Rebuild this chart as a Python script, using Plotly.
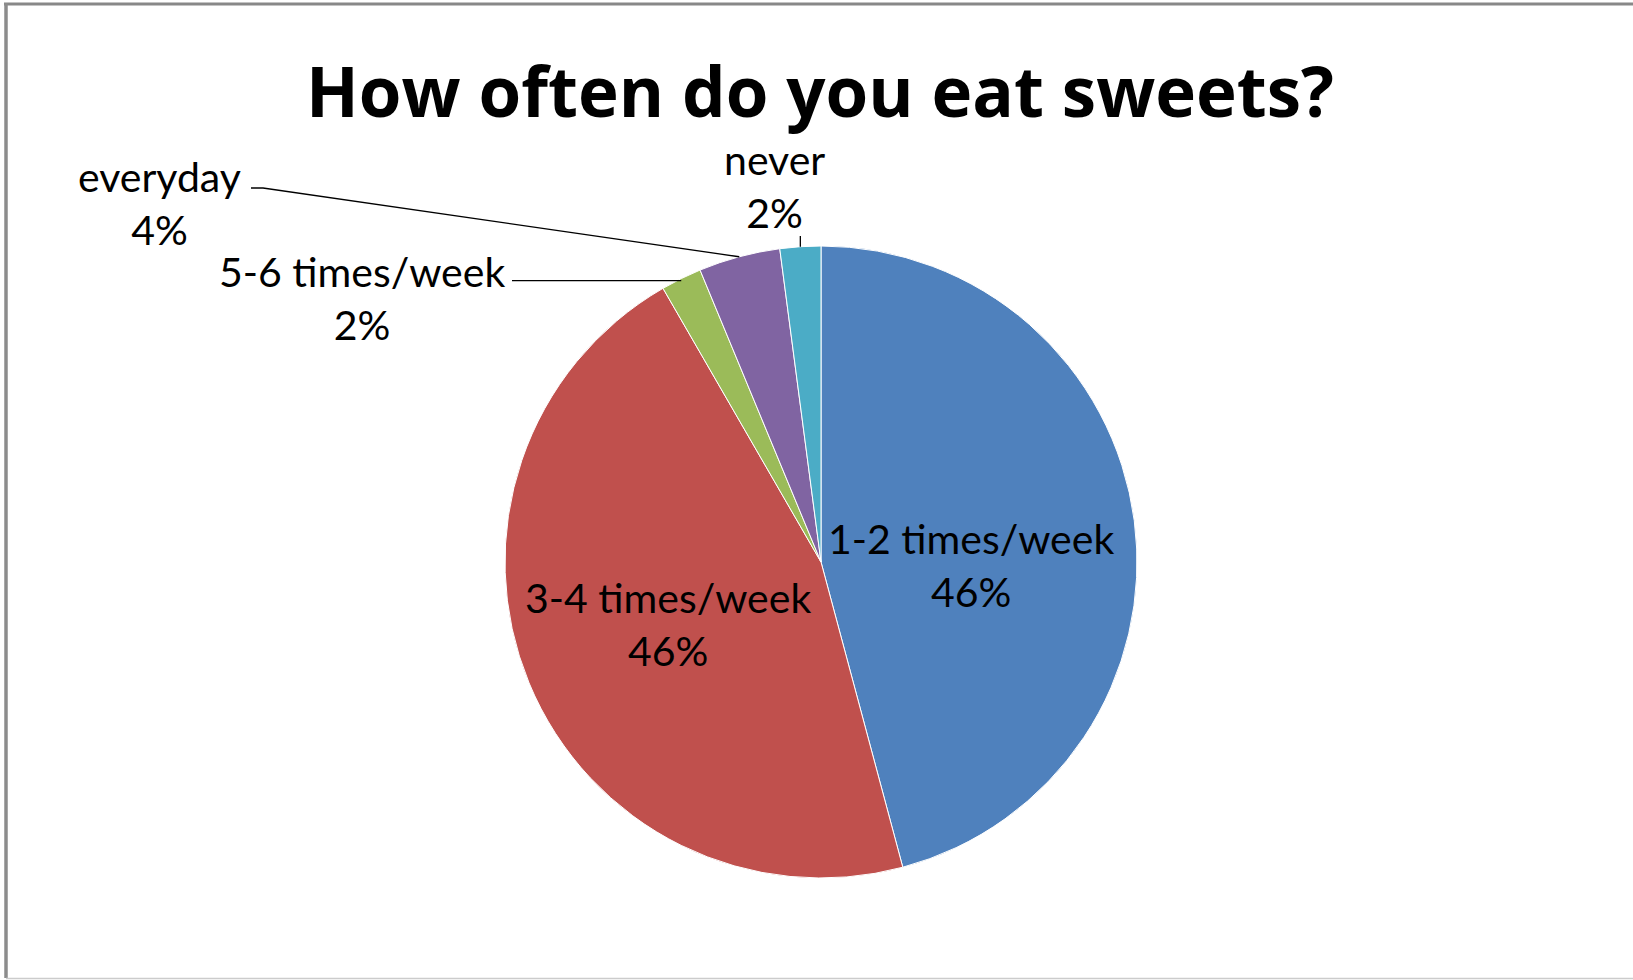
import math
import plotly.graph_objects as go

# Survey answers, in clockwise order starting at 12 o'clock
categories = ["1-2 times/week", "3-4 times/week", "5-6 times/week", "everyday", "never"]
counts = [22, 22, 1, 2, 1]
colors = ["#4F81BD", "#C0504D", "#9BBB59", "#8064A2", "#4BACC6"]

W, H = 1633, 980
CX, CY, R = 821, 562, 316          # pie centre and radius in pixels
FONT = "Lato, 'Open Sans', sans-serif"
TITLE_FONT = "'Open Sans', Lato, sans-serif"
LABEL_SIZE = 41

total = sum(counts)
pcts = [round(c / total * 100) for c in counts]


def px(x):
    return x / W


def py(y):
    return 1 - y / H


def edge_point(i):
    """Point on the rim at the middle angle of slice i (clockwise from top)."""
    start = sum(counts[:i]) / total * 2 * math.pi
    mid = start + counts[i] / total * math.pi
    return CX + R * math.sin(mid), CY - R * math.cos(mid)


fig = go.Figure(
    go.Pie(
        labels=categories,
        values=counts,
        sort=False,
        direction="clockwise",
        rotation=0,
        marker=dict(colors=colors, line=dict(color="white", width=1)),
        textinfo="none",
        hoverinfo="label+percent",
        showlegend=False,
        domain=dict(x=[px(CX - R), px(CX + R)], y=[py(CY + R), py(CY - R)]),
    )
)

# label anchor (pixel centre of the two-line block) for each slice
label_pos = {
    "1-2 times/week": (971, 565),
    "3-4 times/week": (668, 624),
    "5-6 times/week": (362, 298),
    "everyday": (159, 203),
    "never": (774, 186),
}

annotations = []
for name, pct in zip(categories, pcts):
    lx, ly = label_pos[name]
    annotations.append(
        dict(
            text=f"{name}<br>{pct}%",
            x=px(lx), y=py(ly), xref="paper", yref="paper",
            xanchor="center", yanchor="middle", showarrow=False,
            font=dict(family=FONT, size=LABEL_SIZE, color="#000000"),
        )
    )

# leader lines from the outside labels to their slices
shapes = []
ex, ey = edge_point(categories.index("everyday"))
shapes.append(dict(
    type="path", xref="paper", yref="paper",
    path=f"M {px(251)},{py(188)} L {px(263)},{py(188)} L {px(ex)},{py(ey)}",
    line=dict(color="#000000", width=1.3),
))
ex, ey = edge_point(categories.index("5-6 times/week"))
shapes.append(dict(
    type="line", xref="paper", yref="paper",
    x0=px(512), y0=py(ey + 2), x1=px(ex), y1=py(ey + 2),
    line=dict(color="#000000", width=1.3),
))
ex, ey = edge_point(categories.index("never"))
shapes.append(dict(
    type="line", xref="paper", yref="paper",
    x0=px(ex), y0=py(236), x1=px(ex), y1=py(ey),
    line=dict(color="#000000", width=1.3),
))

# chart frame
shapes += [
    dict(type="line", xref="paper", yref="paper", x0=px(4), x1=1.01, y0=py(4), y1=py(4),
         line=dict(color="#888888", width=3)),
    dict(type="line", xref="paper", yref="paper", x0=px(6), x1=px(6), y0=py(3), y1=py(978),
         line=dict(color="#8c8c8c", width=3.5)),
    dict(type="line", xref="paper", yref="paper", x0=px(6), x1=1.01, y0=py(978.5), y1=py(978.5),
         line=dict(color="#cccccc", width=1.5)),
]

fig.update_layout(
    width=W, height=H,
    margin=dict(l=0, r=0, t=0, b=0),
    paper_bgcolor="white",
    plot_bgcolor="white",
    title=dict(
        text="How often do you eat sweets?",
        x=px(820), xanchor="center",
        y=py(93), yanchor="middle", yref="container",
        font=dict(family=TITLE_FONT, size=69, color="#000000", weight="bold"),
    ),
    annotations=annotations,
    shapes=shapes,
)

fig.write_html("out.html")
